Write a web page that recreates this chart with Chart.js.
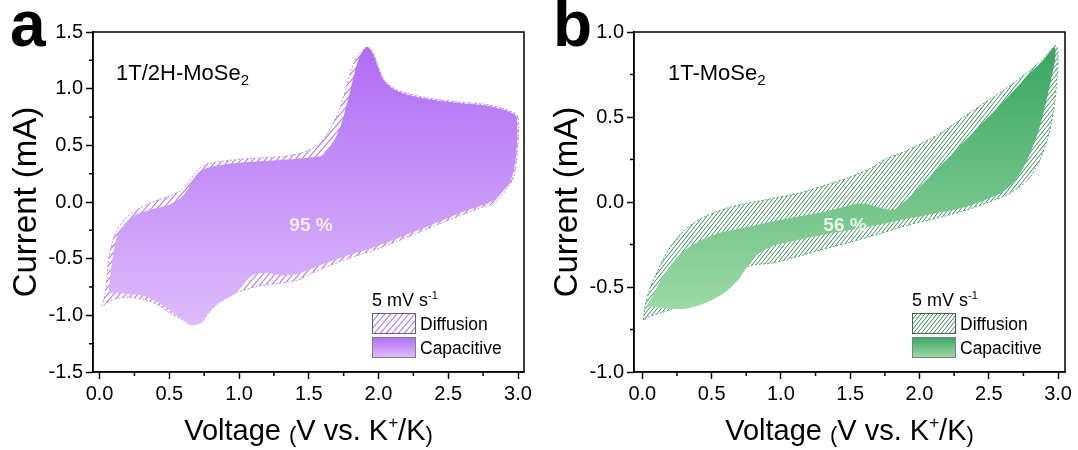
<!DOCTYPE html>
<html>
<head>
<meta charset="utf-8">
<script src="https://cdn.jsdelivr.net/npm/chart.js@4.4.1/dist/chart.umd.min.js"></script>
<style>
  body { margin: 0; background: #fff; }
  #wrap { position: relative; width: 1078px; height: 450px; }
  #chartA { position: absolute; left: 0; top: 0; }
  #chartB { position: absolute; left: 540px; top: 0; }
</style>
</head>
<body>
<div id="wrap">
  <canvas id="chartA" width="540" height="450"></canvas>
  <canvas id="chartB" width="538" height="450"></canvas>
</div>
<script>
const FONT = "'Liberation Sans', Arial, Helvetica, sans-serif";

// axis ticks
const xTicks = [0, 0.5, 1, 1.5, 2, 2.5, 3];
const xMinor = [0.25, 0.75, 1.25, 1.75, 2.25, 2.75];
const yTicksA = [-1.5, -1, -0.5, 0, 0.5, 1, 1.5];
const yMinorA = [-1.25, -0.75, -0.25, 0.25, 0.75, 1.25];
const yTicksB = [-1, -0.5, 0, 0.5, 1];
const yMinorB = [-0.75, -0.25, 0.25, 0.75];

// (a) 1T/2H-MoSe2 - total current loop (anodic sweep, then cathodic)
const vTotalA = [0.017, 0.041, 0.053, 0.065, 0.089, 0.125, 0.185, 0.28, 0.40, 0.52, 0.59, 0.64, 0.68, 0.76, 0.95, 1.10, 1.30, 1.44, 1.52, 1.583, 1.66, 1.727, 1.77, 1.811, 1.85, 1.883, 1.923, 1.96, 1.99, 2.03, 2.063, 2.134, 2.30, 2.54, 2.78, 2.88, 2.95, 3.0,
                 2.997, 2.97, 2.91, 2.83, 2.73, 2.65, 2.45, 2.25, 2.0, 1.757, 1.60, 1.50, 1.42, 1.30, 1.15, 1.05, 0.975, 0.855, 0.78, 0.735, 0.664, 0.616, 0.52, 0.42, 0.33, 0.185, 0.08];
const iTotalA = [-0.92, -0.80, -0.66, -0.51, -0.365, -0.25, -0.145, -0.06, 0.01, 0.06, 0.11, 0.17, 0.25, 0.33, 0.37, 0.385, 0.40, 0.43, 0.47, 0.52, 0.66, 0.84, 1.02, 1.19, 1.29, 1.34, 1.37, 1.32, 1.224, 1.10, 1.048, 0.99, 0.93, 0.888, 0.86, 0.83, 0.80, 0.756,
                 0.46, 0.226, 0.10, -0.01, -0.05, -0.09, -0.185, -0.288, -0.41, -0.51, -0.585, -0.64, -0.69, -0.715, -0.74, -0.77, -0.806, -0.89, -0.98, -1.06, -1.07, -1.05, -0.99, -0.91, -0.865, -0.84, -0.87];
// (a) capacitive contribution
const vCapA = [0.065, 0.077, 0.094, 0.125, 0.185, 0.256, 0.376, 0.496, 0.58, 0.628, 0.664, 0.70, 0.77, 0.95, 1.10, 1.30, 1.45, 1.55, 1.607, 1.67, 1.727, 1.787, 1.847, 1.89, 1.923, 1.96, 1.99, 2.03, 2.063, 2.134, 2.30, 2.54, 2.78, 2.88, 2.95, 2.99,
               2.99, 2.96, 2.90, 2.82, 2.72, 2.64, 2.45, 2.25, 2.0, 1.757, 1.60, 1.50, 1.40, 1.30, 1.19, 1.10, 1.05, 0.975, 0.855, 0.78, 0.735, 0.664, 0.616, 0.52, 0.42, 0.33, 0.185];
const iCapA = [-0.806, -0.66, -0.483, -0.306, -0.188, -0.115, -0.065, -0.026, 0.032, 0.106, 0.18, 0.25, 0.30, 0.34, 0.355, 0.37, 0.385, 0.40, 0.415, 0.52, 0.667, 0.93, 1.224, 1.34, 1.365, 1.31, 1.21, 1.09, 1.04, 0.98, 0.92, 0.878, 0.85, 0.82, 0.79, 0.75,
               0.46, 0.23, 0.11, 0.01, -0.04, -0.07, -0.165, -0.265, -0.385, -0.48, -0.55, -0.60, -0.64, -0.65, -0.625, -0.645, -0.70, -0.806, -0.89, -0.98, -1.06, -1.09, -1.06, -0.97, -0.89, -0.835, -0.81];

// (b) 1T-MoSe2 - total current loop
const vTotalB = [0.008, 0.019, 0.05, 0.091, 0.188, 0.307, 0.451, 0.643, 0.883, 1.123, 1.363, 1.506, 1.65, 1.75, 1.90, 2.14, 2.38, 2.62, 2.79, 2.90, 2.98,
                 3.0, 2.99, 2.96, 2.92, 2.86, 2.78, 2.65, 2.50, 2.33, 2.10, 1.90, 1.70, 1.506, 1.363, 1.123, 0.931, 0.80, 0.70, 0.60, 0.45, 0.30, 0.163, 0.06];
const iTotalB = [-0.694, -0.616, -0.52, -0.44, -0.282, -0.165, -0.086, -0.028, 0.012, 0.051, 0.11, 0.149, 0.20, 0.25, 0.30, 0.40, 0.535, 0.665, 0.77, 0.85, 0.92,
                 0.88, 0.70, 0.50, 0.36, 0.23, 0.13, 0.05, 0.0, -0.05, -0.10, -0.14, -0.19, -0.235, -0.265, -0.32, -0.36, -0.37, -0.40, -0.45, -0.53, -0.60, -0.645, -0.67];
// (b) capacitive contribution
const vCapB = [0.032, 0.068, 0.163, 0.283, 0.404, 0.547, 0.715, 0.931, 1.123, 1.314, 1.458, 1.55, 1.62, 1.70, 1.78, 1.84, 2.10, 2.40, 2.60, 2.80, 2.90, 2.975,
               2.98, 2.95, 2.91, 2.86, 2.80, 2.72, 2.62, 2.50, 2.33, 2.10, 1.90, 1.70, 1.506, 1.363, 1.123, 0.931, 0.811, 0.74, 0.691, 0.60, 0.523, 0.40, 0.283, 0.15, 0.068];
const iCapB = [-0.616, -0.56, -0.42, -0.30, -0.233, -0.184, -0.155, -0.116, -0.086, -0.057, -0.028, -0.01, -0.012, -0.03, -0.045, -0.035, 0.17, 0.42, 0.585, 0.76, 0.84, 0.91,
               0.85, 0.72, 0.58, 0.42, 0.29, 0.16, 0.07, 0.02, -0.03, -0.07, -0.10, -0.135, -0.165, -0.184, -0.224, -0.263, -0.322, -0.40, -0.459, -0.53, -0.567, -0.61, -0.63, -0.625, -0.616];

function loop(v, i) {
  const p = v.map((x, k) => ({ x: x, y: i[k] }));
  p.push({ x: v[0], y: i[0] });
  return p;
}

function hatch(ctx, color, w, h, lw) {
  const c = document.createElement('canvas');
  c.width = w; c.height = h;
  const g = c.getContext('2d');
  g.strokeStyle = color;
  g.lineWidth = lw;
  g.beginPath();
  for (let k = 0; k <= 2; k++) {
    g.moveTo(k * w + w, -h);
    g.lineTo(k * w - 2 * w, 2 * h);
  }
  g.stroke();
  return ctx.createPattern(c, 'repeat');
}

function capFill(top, bottom, hi, lo) {
  return (ctx) => {
    const ch = ctx.chart;
    if (!ch.chartArea) return top;
    const y = ch.scales.y;
    const g = ch.ctx.createLinearGradient(0, y.getPixelForValue(hi), 0, y.getPixelForValue(lo));
    g.addColorStop(0, top);
    g.addColorStop(1, bottom);
    return g;
  };
}

// text made of pieces of different size / offset
function runs(c, parts, x, base, align) {
  let w = 0;
  parts.forEach(p => {
    c.font = (p.b ? 'bold ' : '') + p.s + 'px ' + FONT;
    p.w = c.measureText(p.t).width;
    w += p.w;
  });
  let cx = align === 'center' ? x - w / 2 : x;
  parts.forEach(p => {
    c.font = (p.b ? 'bold ' : '') + p.s + 'px ' + FONT;
    c.fillText(p.t, cx, base + (p.dy || 0));
    cx += p.w;
  });
}

const decor = {
  id: 'decor',
  afterDatasetsDraw(chart, args, o) {
    const c = chart.ctx, a = chart.chartArea;
    const sx = chart.scales.x, sy = chart.scales.y;
    c.save();
    c.strokeStyle = '#000';
    c.lineWidth = 1.5;
    c.strokeRect(a.left, a.top, a.right - a.left, a.bottom - a.top);
    c.beginPath();
    o.xMinor.forEach(v => {
      const p = sx.getPixelForValue(v);
      c.moveTo(p, a.bottom); c.lineTo(p, a.bottom + 4);
    });
    o.yMinor.forEach(v => {
      const p = sy.getPixelForValue(v);
      c.moveTo(a.left, p); c.lineTo(a.left - 4, p);
    });
    c.stroke();
    c.restore();
  },
  afterDraw(chart, args, o) {
    const c = chart.ctx, a = chart.chartArea;
    c.save();
    c.fillStyle = '#000';
    c.textAlign = 'left';
    c.textBaseline = 'alphabetic';

    // panel letter
    c.font = 'bold 64px ' + FONT;
    c.fillText(o.letter, o.letterX, 46);

    // y title
    c.save();
    c.translate(o.yTitleX, (a.top + a.bottom) / 2);
    c.rotate(-Math.PI / 2);
    c.textAlign = 'center';
    c.font = '33px ' + FONT;
    c.fillText('Current (mA)', 0, 0);
    c.restore();

    // x title
    runs(c, [
      { t: 'Voltage ', s: 29 },
      { t: '(', s: 22, dy: 2 },
      { t: 'V vs. K', s: 29 },
      { t: '+', s: 17, dy: -12 },
      { t: '/K', s: 29 },
      { t: ')', s: 22, dy: 2 }
    ], (a.left + a.right) / 2, 440, 'center');

    // sample name
    runs(c, [{ t: o.label, s: 22 }, { t: '2', s: 15, dy: 5 }], o.labelX, 80, 'left');

    // percentage
    c.fillStyle = o.pctColor;
    c.textAlign = 'center';
    c.font = 'bold 19px ' + FONT;
    c.fillText(o.pct, o.pctX, 231);

    // legend
    const lx = o.legX;
    c.textAlign = 'left';
    c.fillStyle = '#000';
    runs(c, [{ t: '5 mV s', s: 18 }, { t: '-1', s: 11, dy: -7 }], lx, 306, 'left');
    c.fillStyle = o.hatch;
    c.fillRect(lx, 313, 43, 20);
    c.strokeStyle = o.boxEdge;
    c.lineWidth = 1;
    c.strokeRect(lx + 0.5, 313.5, 43, 20);
    const g = c.createLinearGradient(0, 337, 0, 357);
    g.addColorStop(0, o.capTop);
    g.addColorStop(1, o.capBot);
    c.fillStyle = g;
    c.fillRect(lx, 337, 43, 20);
    c.strokeStyle = '#808080';
    c.strokeRect(lx + 0.5, 337.5, 43, 20);
    c.fillStyle = '#000';
    c.font = '17.5px ' + FONT;
    c.fillText('Diffusion', lx + 48, 330);
    c.fillText('Capacitive', lx + 48, 354);
    c.restore();
  }
};

function makeChart(id, p) {
  const el = document.getElementById(id);
  const ctx = el.getContext('2d');
  const pat = hatch(ctx, p.hatchColor, p.hw, p.hh, p.hlw);
  const hi = Math.max(...p.iCap), lo = Math.min(...p.iCap);
  return new Chart(ctx, {
    type: 'line',
    data: {
      datasets: [
        {
          label: 'Capacitive',
          data: loop(p.vCap, p.iCap),
          fill: 'shape',
          backgroundColor: capFill(p.capTop, p.capBot, hi, lo),
          borderColor: 'rgba(0,0,0,0)',
          borderWidth: 1,
          pointRadius: 0,
          tension: 0.3
        },
        {
          label: 'Diffusion',
          data: loop(p.vTot, p.iTot),
          fill: 'shape',
          backgroundColor: pat,
          borderColor: p.edge,
          borderWidth: 1,
          borderDash: [2, 2],
          pointRadius: 0,
          tension: 0.3
        }
      ]
    },
    options: {
      responsive: false,
      animation: false,
      devicePixelRatio: 1,
      events: [],
      layout: { padding: { top: 32, right: p.padRight, bottom: 0, left: 0 } },
      plugins: {
        legend: { display: false },
        tooltip: { enabled: false },
        decor: {
          letter: p.letter, letterX: p.letterX, yTitleX: p.yTitleX,
          label: p.label, labelX: p.labelX,
          pct: p.pct, pctX: p.pctX, pctColor: p.pctColor,
          legX: p.legX, hatch: pat, boxEdge: p.boxEdge,
          capTop: p.capTop, capBot: p.capBot,
          xMinor: xMinor, yMinor: p.yMinor
        }
      },
      scales: {
        x: {
          type: 'linear',
          min: p.xMin,
          max: p.xMax,
          afterBuildTicks: s => { s.ticks = xTicks.map(v => ({ value: v })); },
          afterFit: s => { s.height = 78; s.paddingLeft = 0; s.paddingRight = 0; },
          ticks: {
            font: { family: FONT, size: 20 },
            color: '#000',
            padding: 3,
            autoSkip: false,
            maxRotation: 0,
            callback: v => v.toFixed(1)
          },
          grid: { drawOnChartArea: false, tickLength: 7, tickColor: '#000', tickWidth: 1.5 },
          border: { color: '#000', width: 1.5 }
        },
        y: {
          min: p.yMin,
          max: p.yMax,
          afterBuildTicks: s => { s.ticks = p.yTicks.map(v => ({ value: v })); },
          afterFit: s => { s.width = p.yWidth; },
          ticks: {
            font: { family: FONT, size: 20 },
            color: '#000',
            padding: 3,
            autoSkip: false,
            callback: v => v.toFixed(1)
          },
          grid: { drawOnChartArea: false, tickLength: 7, tickColor: '#000', tickWidth: 1.5 },
          border: { color: '#000', width: 1.5 }
        }
      }
    },
    plugins: [decor]
  });
}

makeChart('chartA', {
  vTot: vTotalA, iTot: iTotalA, vCap: vCapA, iCap: iCapA,
  xMin: -0.047, xMax: 3.043, yMin: -1.5, yMax: 1.5,
  yTicks: yTicksA, yMinor: yMinorA, yWidth: 93, padRight: 16,
  hatchColor: 'rgb(168,118,232)', hw: 6, hh: 7, hlw: 1.1, edge: 'rgba(168,118,232,0.8)',
  capTop: 'rgb(176,108,245)', capBot: 'rgb(222,188,251)', boxEdge: '#6f5a8a',
  letter: 'a', letterX: 10, yTitleX: 36,
  label: '1T/2H-MoSe', labelX: 116,
  pct: '95 %', pctX: 311, pctColor: 'rgb(244,236,255)', legX: 372
});

makeChart('chartB', {
  vTot: vTotalB, iTot: iTotalB, vCap: vCapB, iCap: iCapB,
  xMin: -0.06, xMax: 3.05, yMin: -1, yMax: 1,
  yTicks: yTicksB, yMinor: yMinorB, yWidth: 94, padRight: 13,
  hatchColor: 'rgb(52,145,86)', hw: 4, hh: 5, hlw: 1, edge: 'rgba(52,145,86,0.85)',
  capTop: 'rgb(56,166,98)', capBot: 'rgb(156,217,166)', boxEdge: '#44664f',
  letter: 'b', letterX: 13, yTitleX: 37,
  label: '1T-MoSe', labelX: 128,
  pct: '56 %', pctX: 305, pctColor: 'rgb(232,246,232)', legX: 372
});
</script>
</body>
</html>
